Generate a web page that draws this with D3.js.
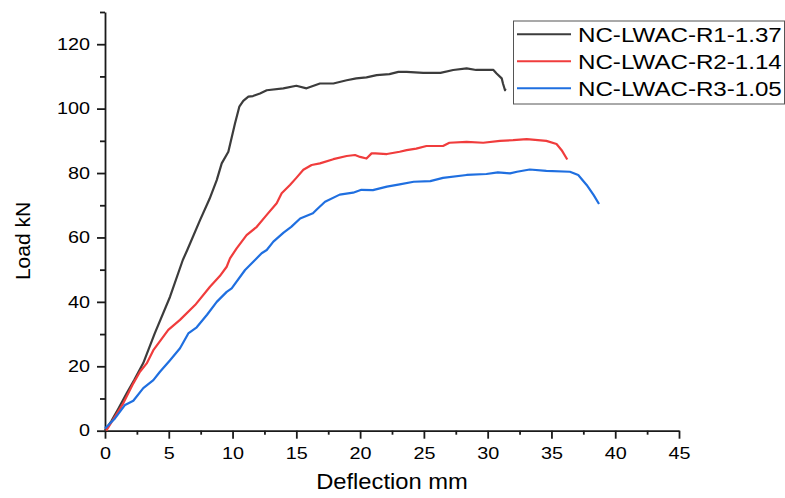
<!DOCTYPE html>
<html>
<head>
<meta charset="utf-8">
<script src="https://cdn.jsdelivr.net/npm/d3@7"></script>
<style>
body { margin: 0; background: white; }
svg { font-family: "Liberation Sans", Arial, sans-serif; }
.axis path, .axis line { stroke: #1a1a1a; stroke-width: 1.8; }
.axis text { font-size: 16.5px; fill: #000; transform-box: fill-box; }
.xaxis text { transform-origin: center; transform: scaleX(1.2); }
.yaxis text { transform-origin: right; transform: scaleX(1.2); }
.leg text { font-size: 21px; fill: #000; transform-box: fill-box; transform-origin: left; transform: scaleX(1.15); }
</style>
</head>
<body>
<script>
// deflection (mm) / load (kN)
const r1Defl = [0, 0.5, 1.0, 1.7, 2.3, 3.0, 3.9, 5.1, 6.1, 6.45, 7.45, 8.2, 8.76, 9.15, 9.67, 10.19, 10.53, 10.84, 11.24, 11.6, 12.15, 12.68, 13.98, 15.0, 15.8, 16.85, 17.9, 18.95, 19.7, 20.5, 21.3, 22.3, 23.0, 23.65, 24.95, 26.3, 27.3, 28.35, 29.1, 29.9, 30.45, 30.7, 31.1, 31.2, 31.36, 31.4];
const r1Load = [0, 3, 6.5, 11.6, 15.8, 21.0, 30.2, 41.6, 53.0, 56.1, 65.4, 72, 77.8, 83.0, 86.6, 95.4, 100.6, 102.4, 103.7, 103.9, 104.7, 105.7, 106.3, 107.1, 106.3, 107.8, 107.8, 108.8, 109.4, 109.7, 110.4, 110.7, 111.4, 111.4, 111.1, 111.1, 112.0, 112.5, 112.0, 112.0, 112.0, 110.9, 109.4, 107.8, 105.7, 106.2];

const r2Defl = [0.1, 0.8, 1.43, 2.22, 2.74, 3.27, 3.79, 4.4, 4.96, 5.88, 7.06, 8.23, 9.0, 9.54, 9.8, 10.32, 11.1, 11.9, 12.68, 13.46, 13.85, 14.5, 15.0, 15.55, 16.2, 16.85, 17.9, 18.95, 19.6, 20.0, 20.5, 20.9, 21.2, 22.1, 23.1, 23.65, 24.4, 25.2, 26.5, 27.0, 28.35, 29.65, 30.97, 32.0, 33.06, 34.6, 35.4, 35.8, 36.24];
const r2Load = [0, 4.5, 8.5, 14.7, 18.3, 20.9, 25.0, 28.3, 31.3, 34.4, 39.0, 44.7, 48, 50.9, 53.5, 56.6, 60.7, 63.3, 67.0, 70.6, 73.7, 76.3, 78.5, 81.0, 82.5, 83.0, 84.3, 85.3, 85.6, 85.0, 84.5, 86.1, 86.1, 85.9, 86.6, 87.1, 87.6, 88.4, 88.4, 89.4, 89.7, 89.4, 90.0, 90.2, 90.5, 90.0, 89.0, 87.1, 84.2];

const r3Defl = [0, 0.78, 1.57, 2.22, 3.0, 3.79, 4.31, 5.1, 5.88, 6.53, 7.19, 8.0, 8.76, 9.54, 9.93, 10.98, 11.76, 12.28, 12.68, 13.2, 14.0, 14.6, 15.3, 16.3, 16.6, 17.25, 18.4, 19.45, 20.1, 21.0, 22.1, 23.1, 24.2, 25.5, 26.5, 28.35, 29.9, 30.8, 31.75, 32.3, 33.3, 34.6, 36.45, 37.1, 37.76, 38.3, 38.73];
const r3Load = [0.7, 3.8, 8.0, 9.3, 13.2, 15.7, 18.3, 21.9, 25.6, 30.2, 32.1, 36, 40.0, 43.1, 44.2, 49.9, 53.0, 55.1, 56.1, 58.7, 61.5, 63.3, 65.9, 67.5, 68.7, 71.1, 73.3, 73.9, 74.8, 74.7, 75.8, 76.5, 77.3, 77.5, 78.5, 79.4, 79.7, 80.2, 79.9, 80.4, 81.1, 80.7, 80.4, 79.4, 76.3, 73.2, 70.4];

const seriesNames = ["NC-LWAC-R1-1.37", "NC-LWAC-R2-1.14", "NC-LWAC-R3-1.05"];
const seriesColors = ["#3c3c3c", "#f03c3c", "#1f6fe0"];
const xTicks = [0, 5, 10, 15, 20, 25, 30, 35, 40, 45];
const yTicks = [0, 20, 40, 60, 80, 100, 120];

const series = [
  d3.zip(r1Defl, r1Load),
  d3.zip(r2Defl, r2Load),
  d3.zip(r3Defl, r3Load)
];

const svg = d3.select("body").append("svg")
  .attr("width", 785)
  .attr("height", 498);

const x = d3.scaleLinear().domain([0, 45]).range([105, 679]);
const y = d3.scaleLinear().domain([0, 130]).range([430.7, 12]);

// minor ticks first so the major axis sits on top
svg.append("g").attr("class", "axis")
  .attr("transform", "translate(0,430.7)")
  .call(d3.axisBottom(x).tickValues(d3.range(2.5, 45, 5)).tickSize(4).tickSizeOuter(0).tickFormat(""))
  .select(".domain").remove();

svg.append("g").attr("class", "axis")
  .attr("transform", "translate(105,0)")
  .call(d3.axisLeft(y).tickValues(d3.range(10, 131, 20)).tickSize(5).tickSizeOuter(0).tickFormat(""))
  .select(".domain").remove();

svg.append("g").attr("class", "axis xaxis")
  .attr("transform", "translate(0,430.7)")
  .call(d3.axisBottom(x).tickValues(xTicks).tickSize(8).tickSizeOuter(0).tickPadding(8.5));

svg.append("g").attr("class", "axis yaxis")
  .attr("transform", "translate(105,0)")
  .call(d3.axisLeft(y).tickValues(yTicks).tickSize(8).tickSizeOuter(0).tickPadding(7));

const line = d3.line()
  .x(d => x(d[0]))
  .y(d => y(d[1]));

svg.selectAll(".curve").data(series).enter()
  .append("path")
  .attr("class", "curve")
  .attr("fill", "none")
  .attr("stroke", (d, i) => seriesColors[i])
  .attr("stroke-width", 2.2)
  .attr("stroke-linejoin", "round")
  .attr("d", line);

svg.append("text")
  .attr("text-anchor", "middle")
  .attr("font-size", 22)
  .attr("fill", "#000")
  .attr("x", 392)
  .attr("y", 489)
  .style("transform-box", "fill-box")
  .style("transform-origin", "center")
  .style("transform", "scaleX(1.08)")
  .text("Deflection mm");

svg.append("text")
  .attr("text-anchor", "middle")
  .attr("font-size", 21)
  .attr("fill", "#000")
  .attr("transform", "translate(29.5,241) rotate(-90)")
  .text("Load kN");

// legend
const leg = svg.append("g").attr("class", "leg");
leg.append("rect")
  .attr("x", 513.5).attr("y", 21)
  .attr("width", 271).attr("height", 83)
  .attr("fill", "white")
  .attr("stroke", "#555")
  .attr("stroke-width", 1);

const rowY = d3.scalePoint().domain(seriesNames).range([34.3, 88.3]);
const rows = leg.selectAll(".row").data(seriesNames).enter()
  .append("g").attr("class", "row")
  .attr("transform", d => `translate(0,${rowY(d)})`);
rows.append("line")
  .attr("x1", 517).attr("x2", 571)
  .attr("stroke", (d, i) => seriesColors[i])
  .attr("stroke-width", 2);
rows.append("text")
  .attr("x", 578)
  .attr("y", 7.6)
  .text(d => d);
</script>
</body>
</html>
